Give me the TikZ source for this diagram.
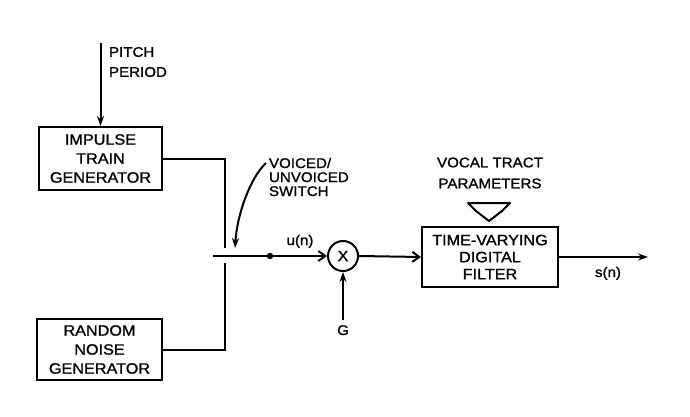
\documentclass[tikz,border=0pt]{standalone}
\usepackage{fontspec}
\setmainfont{Liberation Sans}[FakeStretch=1.08, FakeBold=1.2]
\usetikzlibrary{arrows.meta}

\begin{document}
\begin{tikzpicture}[x=1pt, y=-1pt, line width=2pt,
  block/.style = {draw, align=center, inner sep=0pt, font=\fontsize{15}{19}\selectfont},
  mult/.style = {draw, circle, minimum size=30pt, inner sep=0pt, font=\fontsize{15}{19}\selectfont},
  lbl/.style = {inner sep=0pt, font=\fontsize{14}{20}\selectfont},
  arr/.style = {-{Stealth[length=10pt,width=7pt]}},
  barb/.style = {-{Straight Barb[length=7pt,width=10pt]}}]
\useasboundingbox (0,0) rectangle (690,417);
\node[block, minimum width=123pt, minimum height=63pt] (imp) at (100.5,158.5) {IMPULSE\\TRAIN\\GENERATOR};
\node[block, minimum width=125pt, minimum height=61pt] (rnd) at (99.5,349.5) {RANDOM\\NOISE\\GENERATOR};
\node[block, minimum width=136pt, minimum height=60pt, font=\fontsize{15}{17}\selectfont] (flt) at (490,257) {TIME-VARYING\\DIGITAL\\FILTER};
\node[mult] (mul) at (343,256) {X};
\node[lbl, anchor=west, align=left] (pp) at (108,62) {PITCH\\PERIOD};
\node[lbl, anchor=west, align=left, font=\fontsize{14}{14}\selectfont] (vs) at (268,177) {VOICED/\\UNVOICED\\SWITCH};
\node[lbl, align=center, font=\fontsize{14}{21}\selectfont] (vt) at (490,173) {VOCAL TRACT\\PARAMETERS};
\node[lbl, anchor=base] (u) at (300,245) {u(n)};
\node[lbl, anchor=base] (s) at (608,277) {s(n)};
\node[lbl, anchor=base] (g) at (343,335) {G};
\coordinate (ptop) at (100.5,43);
\coordinate (swt) at (225,248);
\coordinate (swb) at (225,263);
\coordinate (swl) at (213,256);
\coordinate (dot) at (270,256);
\coordinate (vsa) at (266,163);
\coordinate (out) at (648,257);
\coordinate (gtop) at (343,320);
% excitation side
\draw[arr] (ptop) -- (imp.north);
\draw (imp.east) -| (swt);
\draw (rnd.east) -| (swb);
\draw (swl) -- (dot);
\fill (dot) circle (3.2pt);
\draw[barb] (dot) -- (mul.west);
\draw[arr] (vsa) .. controls (250,178) and (237,215) .. (235,248);
\draw[arr] (gtop) -- (mul.south);
% filter side
\draw[barb] (mul.east) -- (flt.west);
\draw[arr] (flt.east) -- (out);
\draw[line join=round] (468,203) -- (510,203) -- (502,211) -- (489,221) -- (476,211) -- cycle;
\end{tikzpicture}
\end{document}
